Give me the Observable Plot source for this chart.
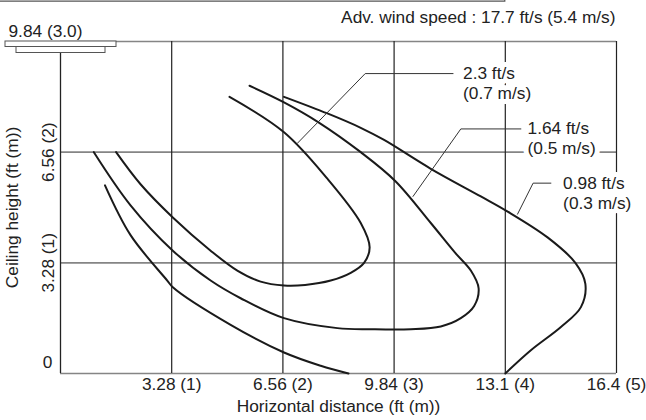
<!DOCTYPE html>
<html>
<head>
<meta charset="utf-8">
<script src="https://cdn.jsdelivr.net/npm/d3@7"></script>
<script src="https://cdn.jsdelivr.net/npm/@observablehq/plot@0.6"></script>
<style>
  html, body { margin: 0; padding: 0; background: #fff; }
  #chart svg { display: block; }
</style>
</head>
<body>
<div id="chart"></div>
<script>
// ---- data (meters) ----
const xTicks = [1, 2, 3, 4, 5];
const xTickLabels = ["3.28 (1)", "6.56 (2)", "9.84 (3)", "13.1 (4)", "16.4 (5)"];
const yTicks = [1, 2];
const yTickLabels = ["3.28 (1)", "6.56 (2)"];
const yZeroLabel = "0";
const ceilingLabel = "9.84 (3.0)";
const title = "Adv. wind speed : 17.7 ft/s (5.4 m/s)";
const xTitle = "Horizontal distance (ft (m))";
const yTitle = "Ceiling height (ft (m))";

const speedFt = ["2.3 ft/s", "1.64 ft/s", "0.98 ft/s"];
const speedM = ["(0.7 m/s)", "(0.5 m/s)", "(0.3 m/s)"];

const curve07 = [[1.52,2.50],[2.01,2.18],[2.40,1.76],[2.70,1.36],[2.78,1.14],[2.73,1.00],[2.61,0.91],[2.43,0.84],[2.20,0.80],[2.01,0.795],[1.80,0.83],[1.59,0.93],[1.35,1.11],[1.01,1.41],[0.72,1.71],[0.50,2.00]];
const curve05 = [[1.70,2.60],[2.01,2.45],[2.32,2.27],[2.70,2.00],[3.01,1.74],[3.33,1.36],[3.55,1.09],[3.69,0.93],[3.76,0.77],[3.72,0.61],[3.60,0.50],[3.42,0.425],[3.15,0.40],[2.79,0.40],[2.49,0.41],[2.01,0.50],[1.62,0.68],[1.35,0.84],[1.01,1.11],[0.63,1.52],[0.30,2.00]];
const curve03 = [[2.01,2.50],[2.40,2.35],[2.70,2.22],[2.91,2.11],[3.33,1.85],[3.78,1.60],[4.01,1.47],[4.38,1.23],[4.63,1.00],[4.72,0.81],[4.68,0.60],[4.50,0.42],[4.23,0.21],[4.00,0.00]];
const curveLow = [[0.40,1.70],[0.63,1.25],[0.96,0.84],[1.01,0.78],[1.53,0.44],[2.01,0.19],[2.34,0.07],[2.59,0.00]];

const leader07 = [[2.13,2.08],[2.74,2.71],[3.53,2.71]];
const leader05 = [[3.17,1.60],[3.60,2.21],[4.14,2.21]];
const leader03 = [[4.11,1.44],[4.25,1.72],[4.41,1.72]];
const labelAt = [[3.62,2.71],[4.20,2.21],[4.52,1.72]];

// ---- build rows ----
const curveRows = [];
[["0.7", curve07], ["0.5", curve05], ["0.3", curve03], ["low", curveLow]].forEach(([k, arr]) =>
  arr.forEach(([x, y]) => curveRows.push({k, x, y})));
const leaderRows = [];
[["0.7", leader07], ["0.5", leader05], ["0.3", leader03]].forEach(([k, arr]) =>
  arr.forEach(([x, y]) => leaderRows.push({k, x, y})));
const labelRows = labelAt.map(([x, y], i) => ({x, y, ft: speedFt[i], m: speedM[i]}));

const FONT = "'Liberation Sans', Arial, Helvetica, sans-serif";
const FS = 17.3;
const ink = "#222";
const grey = "#858585";
const halo = {stroke: "#fff", strokeWidth: 10, strokeLinejoin: "round", paintOrder: "stroke"};

const chart = Plot.plot({
  width: 646, height: 420,
  marginLeft: 60, marginRight: 30, marginTop: 41, marginBottom: 47,
  x: {domain: [0, 5], axis: null},
  y: {domain: [0, 3], axis: null},
  style: {fontFamily: FONT, fontSize: FS + "px", color: ink, background: "#fff", overflow: "visible"},
  marks: [
    Plot.ruleY(yTicks, {stroke: grey, strokeWidth: 1.6}),
    Plot.ruleY([0], {stroke: grey, strokeWidth: 1.6}),
    Plot.ruleY([3], {stroke: grey, strokeWidth: 1.4}),
    Plot.ruleX(xTicks, {stroke: ink, strokeWidth: 1.2}),
    Plot.ruleX([0], {stroke: ink, strokeWidth: 1.3}),
    Plot.line(curveRows, {x: "x", y: "y", z: "k", stroke: "#1a1a1a", strokeWidth: 2, curve: "catmull-rom"}),
    Plot.line(leaderRows, {x: "x", y: "y", z: "k", stroke: "#333", strokeWidth: 1}),
    Plot.text(labelRows, {x: "x", y: "y", text: "ft", textAnchor: "start", lineAnchor: "middle", fill: ink, ...halo, fontSize: FS}),
    Plot.text(labelRows, {x: "x", y: "y", dy: 20, text: "m", textAnchor: "start", lineAnchor: "middle", fill: ink, ...halo, fontSize: FS}),
    // x tick labels
    Plot.text(xTicks, {x: d => d, y: 0, dy: 11, lineAnchor: "middle", text: (d, i) => xTickLabels[i], fill: ink, fontSize: FS}),
    // y tick labels (rotated)
    Plot.text(yTicks, {x: 0, y: d => d, dx: -12, lineAnchor: "middle", textAnchor: "middle", text: (d, i) => yTickLabels[i], rotate: -90, fill: ink, fontSize: FS}),
    Plot.text([yZeroLabel], {x: 0, y: 0, dx: -13, dy: -11, lineAnchor: "middle", text: d => d, fill: ink, fontSize: FS}),
    // titles
    Plot.text([xTitle], {frameAnchor: "bottom", dy: 33, lineAnchor: "middle", textAnchor: "middle", text: d => d, fill: ink, fontSize: FS}),
    Plot.text([yTitle], {frameAnchor: "left", dx: -48, rotate: -90, lineAnchor: "middle", textAnchor: "middle", text: d => d, fill: ink, fontSize: FS}),
    Plot.text([title], {frameAnchor: "top-right", dx: -1, dy: -24, lineAnchor: "middle", textAnchor: "end", text: d => d, fill: ink, fontSize: FS}),
    Plot.text([ceilingLabel], {frameAnchor: "top-left", dx: -52, dy: -10, lineAnchor: "middle", textAnchor: "start", text: d => d, fill: ink, fontSize: FS})
  ]
});

document.getElementById("chart").appendChild(chart);

// ceiling unit illustration + cropped frame line at top, placed via the scales
const sx = chart.scale("x"), sy = chart.scale("y");
const x0 = sx.apply(0), yTop = sy.apply(3);
const svg = d3.select(chart);
svg.append("rect").attr("x", x0 - 55).attr("y", yTop).attr("width", 111).attr("height", 5.5)
  .attr("fill", "#fff").attr("stroke", "#555").attr("stroke-width", 1);
svg.append("rect").attr("x", x0 - 44).attr("y", yTop + 5.5).attr("width", 89).attr("height", 6)
  .attr("fill", "#fff").attr("stroke", "#555").attr("stroke-width", 1);
svg.append("path").attr("d", `M0,1.2H${sx.apply(4)}V0`).attr("fill", "none").attr("stroke", "#555").attr("stroke-width", 1.2);
</script>
</body>
</html>
